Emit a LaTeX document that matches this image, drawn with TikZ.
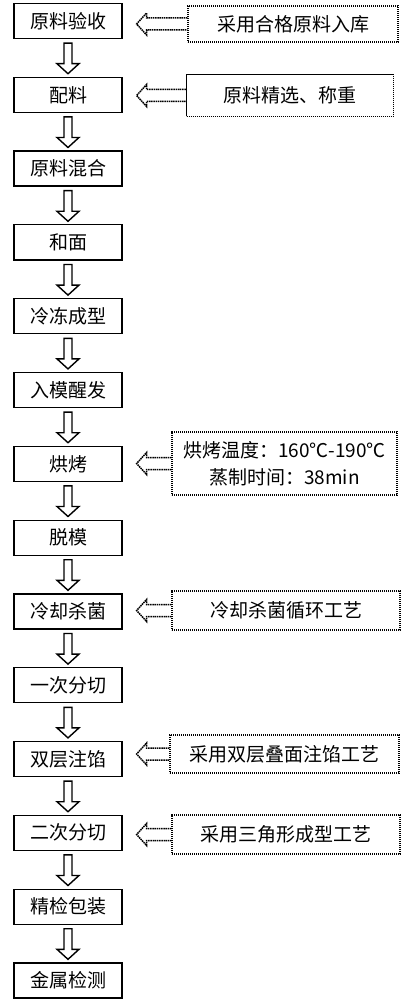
\documentclass[tikz,border=0pt]{standalone}
\usepackage{fontspec}
\setmainfont{Noto Sans CJK SC}
\usetikzlibrary{calc}
\newcommand*{\hollowdown}[2]{%
 \draw[line width=1.4pt] ($(#1.south)+(-4,4)$) -- ($(#2.north)+(-4,-13)$) -- ++(-7,0) -- ($(#2.north)+(0,-3)$) -- ($(#2.north)+(11,-13)$) -- ++(-7,0) -- ($(#1.south)+(4,4)$) -- cycle;}
\newcommand*{\dottedleft}[2]{%
 \draw[line width=1.5pt, dash pattern=on 1.5pt off 0.7pt] ($(#1.west)+(0,-6)$) -- ($(#2.east |- #1.west)+(24,-6)$) -- ++(0,-5) -- ($(#2.east |- #1.west)+(14,0)$) -- ++(10,11) -- ++(0,-5) -- ($(#1.west)+(0,6)$);}

\begin{document}
\begin{tikzpicture}[x=1pt, y=-1pt,
 step box/.style={draw, line width=1.2pt, minimum width=108pt, minimum height=35pt, inner sep=0pt, font=\fontsize{19}{22}\selectfont},
 note box/.style={draw, line width=1.3pt, dash pattern=on 1.3pt off 0.7pt, inner sep=0pt, align=center, font=\fontsize{19}{27}\selectfont}]
 \useasboundingbox (0,0) rectangle (403,1000);
 \node [step box] (raw) at (68,21) {原料验收};
 \node [step box] (batch) at (68,94.8) {配料};
 \node [step box] (mix) at (68,168.6) {原料混合};
 \node [step box] (dough) at (68,242.4) {和面};
 \node [step box] (freeze) at (68,316.2) {冷冻成型};
 \node [step box] (proof) at (68,390) {入模醒发};
 \node [step box] (bake) at (68,463.8) {烘烤};
 \node [step box] (demould) at (68,537.6) {脱模};
 \node [step box] (cool) at (68,611.4) {冷却杀菌};
 \node [step box] (cutA) at (68,685.2) {一次分切};
 \node [step box] (fill) at (68,759) {双层注馅};
 \node [step box] (cutB) at (68,832.8) {二次分切};
 \node [step box] (inspect) at (68,906.6) {精检包装};
 \node [step box] (metal) at (68,980.4) {金属检测};

 \node [note box, minimum width=210pt, minimum height=36pt] (rawnote) at (293,24) {采用合格原料入库};
 \node [note box, minimum width=207pt, minimum height=42pt] (batchnote) at (290,95.5) {原料精选、称重};
 \node [note box, minimum width=225pt, minimum height=63pt] (bakenote) at (284.5,463.5) {烘烤温度：160℃-190℃\\蒸制时间：38min};
 \node [note box, minimum width=228pt, minimum height=39pt] (coolnote) at (286,610.5) {冷却杀菌循环工艺};
 \node [note box, minimum width=229pt, minimum height=38pt] (fillnote) at (284.5,754) {采用双层叠面注馅工艺};
 \node [note box, minimum width=228pt, minimum height=39pt] (cutnote) at (286,834.5) {采用三角形成型工艺};

 \hollowdown{raw}{batch}
 \hollowdown{batch}{mix}
 \hollowdown{mix}{dough}
 \hollowdown{dough}{freeze}
 \hollowdown{freeze}{proof}
 \hollowdown{proof}{bake}
 \hollowdown{bake}{demould}
 \hollowdown{demould}{cool}
 \hollowdown{cool}{cutA}
 \hollowdown{cutA}{fill}
 \hollowdown{fill}{cutB}
 \hollowdown{cutB}{inspect}
 \hollowdown{inspect}{metal}

 \dottedleft{rawnote}{raw}
 \dottedleft{batchnote}{batch}
 \dottedleft{bakenote}{bake}
 \dottedleft{coolnote}{cool}
 \dottedleft{fillnote}{fill}
 \dottedleft{cutnote}{cutB}
\end{tikzpicture}
\end{document}
